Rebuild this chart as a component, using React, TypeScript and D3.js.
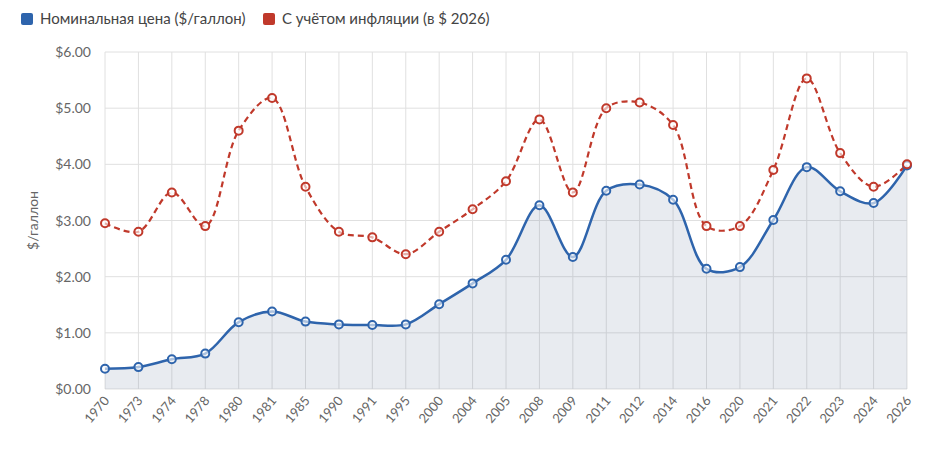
import * as d3 from "d3";

const years = ["1970","1973","1974","1978","1980","1981","1985","1990","1991","1995","2000","2004","2005","2008","2009","2011","2012","2014","2016","2020","2021","2022","2023","2024","2026"];
const nominal = [0.36,0.39,0.53,0.63,1.19,1.38,1.20,1.15,1.14,1.15,1.51,1.88,2.30,3.27,2.35,3.53,3.64,3.37,2.14,2.17,3.01,3.95,3.52,3.31,3.98];
const adjusted = [2.95,2.80,3.50,2.90,4.60,5.18,3.60,2.80,2.70,2.40,2.80,3.20,3.70,4.80,3.50,5.00,5.10,4.70,2.90,2.90,3.90,5.53,4.20,3.60,4.00];
const yTicks = [0,1,2,3,4,5,6];

const W = 933, H = 462;
const M = { top: 52, right: 26, bottom: 73, left: 105 };
const BLUE = "#2e64ac";
const RED = "#c0392b";
const FONT = "Lato, 'Open Sans', sans-serif";

export default function App() {
  const x = d3.scalePoint<string>().domain(years).range([M.left, W - M.right]);
  const y = d3.scaleLinear().domain([0, 6]).range([H - M.bottom, M.top]);
  const curve = d3.curveCatmullRom.alpha(0.5);
  const line = (vals: number[]) =>
    d3.line<number>().x((_, i) => x(years[i])!).y((d) => y(d)).curve(curve)(vals)!;
  const area = d3.area<number>().x((_, i) => x(years[i])!).y0(y(0)).y1((d) => y(d)).curve(curve)(nominal)!;

  return (
    <svg width={W} height={H} style={{ position: "absolute", left: 0, top: 0, fontFamily: FONT }}>
      <rect width={W} height={H} fill="#fff" />
      {yTicks.map((t) => (
        <g key={t}>
          <line x1={M.left} x2={W - M.right} y1={y(t)} y2={y(t)} stroke="#e0e0e0" />
          <text x={M.left - 14} y={y(t) + 5} textAnchor="end" fontSize={14} fill="#666">${t.toFixed(2)}</text>
        </g>
      ))}
      {years.map((yr) => (
        <g key={yr}>
          <line x1={x(yr)} x2={x(yr)} y1={M.top} y2={H - M.bottom} stroke="#e0e0e0" />
          <text transform={`translate(${x(yr)! + 5},${H - M.bottom + 12}) rotate(-50)`} textAnchor="end" fontSize={13} fill="#666">{yr}</text>
        </g>
      ))}
      <text transform={`translate(38,${(M.top + H - M.bottom) / 2}) rotate(-90)`} textAnchor="middle" fontSize={14} fill="#666">$/галлон</text>
      <path d={area} fill="#5a6f96" fillOpacity={0.14} />
      <path d={line(nominal)} fill="none" stroke={BLUE} strokeWidth={2.5} />
      <path d={line(adjusted)} fill="none" stroke={RED} strokeWidth={2.2} strokeDasharray="6 4" />
      {nominal.map((v, i) => (
        <circle key={"n" + i} cx={x(years[i])} cy={y(v)} r={4} fill="#fff" fillOpacity={0.6} stroke={BLUE} strokeWidth={2} />
      ))}
      {adjusted.map((v, i) => (
        <circle key={"a" + i} cx={x(years[i])} cy={y(v)} r={4} fill="#fff" fillOpacity={0.6} stroke={RED} strokeWidth={2} />
      ))}
      <rect x={21} y={13} width={12} height={12} rx={2} fill={BLUE} />
      <text x={40} y={24} fontSize={15} fill="#444">Номинальная цена ($/галлон)</text>
      <rect x={263} y={13} width={12} height={12} rx={2} fill={RED} />
      <text x={282} y={24} fontSize={15} fill="#444">С учётом инфляции (в $ 2026)</text>
    </svg>
  );
}
